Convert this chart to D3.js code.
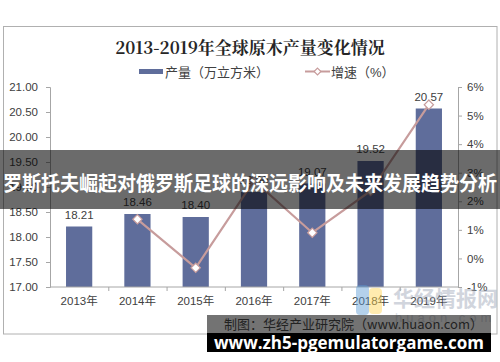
<!DOCTYPE html>
<html><head><meta charset="utf-8">
<script src="https://cdn.jsdelivr.net/npm/d3@7"></script>
<style>body{margin:0;background:#fff}svg{display:block}</style>
</head><body>
<svg id="c" width="500" height="362"></svg>
<script>
const years = ["2013年","2014年","2015年","2016年","2017年","2018年","2019年"];
const output = [18.21, 18.46, 18.40, 18.90, 19.07, 19.52, 20.57];
const growth = [null, 1.37, -0.33, 2.72, 0.90, 2.36, 5.38];
const leftTicks = [17, 17.5, 18, 18.5, 19, 19.5, 20, 20.5, 21];
const rightTicks = [-1, 0, 1, 2, 3, 4, 5, 6];
const title = "2013-2019年全球原木产量变化情况";
const legendBar = "产量（万立方米）";
const legendLine = "增速（%）";
const source = "制图：华经产业研究院（www.huaon.com）";
const banner = "罗斯托夫崛起对俄罗斯足球的深远影响及未来发展趋势分析";
const site = "www.zh5-pgemulatorgame.com";

const svg = d3.select("#c");
const barColor = "#5f6d9b", lineColor = "#c79c9c", axisColor = "#a6a6a6", txt = "#404040";
const font = "'Liberation Sans', Arial, 'Noto Sans CJK SC', sans-serif";

// frame
svg.append("rect").attr("x",3.5).attr("y",26.5).attr("width",493.5).attr("height",307.5)
  .attr("fill","none").attr("stroke","#b0b0b0");

// title
svg.append("text").attr("x",250).attr("y",54).attr("text-anchor","middle")
  .attr("font-family","'Noto Serif CJK SC','DejaVu Serif','Noto Sans CJK SC',serif")
  .attr("font-weight","bold").attr("font-size",17).attr("fill","#262626").text(title);

// legend
svg.append("rect").attr("x",139).attr("y",69).attr("width",24).attr("height",5).attr("fill",barColor);
svg.append("text").attr("x",165).attr("y",76.5).attr("font-family",font).attr("font-size",13).attr("fill",txt).text(legendBar);
svg.append("line").attr("x1",305).attr("x2",330).attr("y1",71.5).attr("y2",71.5).attr("stroke",lineColor).attr("stroke-width",2);
svg.append("path").attr("d",d3.symbol(d3.symbolDiamond2,30)()).attr("transform","translate(317.5,71.5)")
  .attr("fill","#fff").attr("stroke",lineColor).attr("stroke-width",1.2);
svg.append("text").attr("x",331).attr("y",76.5).attr("font-family",font).attr("font-size",13).attr("fill",txt).text(legendLine);

const x = d3.scaleBand().domain(years).range([50,458]).paddingInner(0.55).paddingOuter(0.275);
const xb = d3.scaleBand().domain(years).range([50,458]);
const yL = d3.scaleLinear().domain([17,21]).range([287,87]);
const yR = d3.scaleLinear().domain([-1,6]).range([287,87]);

// bars
svg.append("g").selectAll("rect").data(output).join("rect")
  .attr("x",(d,i)=>x(years[i])).attr("width",x.bandwidth())
  .attr("y",d=>yL(d)).attr("height",d=>yL(17)-yL(d)).attr("fill",barColor);

// bar labels
svg.append("g").selectAll("text").data(output).join("text")
  .attr("x",(d,i)=>x(years[i])+x.bandwidth()/2).attr("y",d=>yL(d)-8)
  .attr("text-anchor","middle").attr("font-family",font).attr("font-size",11.5).attr("fill",txt)
  .text(d=>d.toFixed(2));

// axes
function styleAxis(g){
  g.select(".domain").attr("stroke",axisColor);
  g.selectAll(".tick line").attr("stroke",axisColor);
  g.selectAll(".tick text").attr("fill",txt).attr("font-family",font).attr("font-size",11.5);
}
svg.append("g").attr("transform","translate(50,0)")
  .call(d3.axisLeft(yL).tickValues(leftTicks).tickFormat(d3.format(".2f")).tickSize(4).tickSizeOuter(4).tickPadding(8))
  .call(styleAxis);
svg.append("g").attr("transform","translate(458,0)")
  .call(d3.axisRight(yR).tickValues(rightTicks).tickFormat(d=>d+"%").tickSize(4).tickSizeOuter(4).tickPadding(5))
  .call(styleAxis);
const gx = svg.append("g").attr("transform","translate(0,287)");
gx.append("line").attr("x1",50).attr("x2",458).attr("stroke",axisColor);
gx.selectAll("line.t").data(years.slice(1)).join("line").attr("class","t")
  .attr("x1",d=>xb(d)+0.5).attr("x2",d=>xb(d)+0.5).attr("y1",0).attr("y2",4).attr("stroke",axisColor);
gx.selectAll("text").data(years).join("text")
  .attr("x",d=>xb(d)+xb.bandwidth()/2).attr("y",18).attr("text-anchor","middle")
  .attr("font-family",font).attr("font-size",11.5).attr("fill",txt).text(d=>d);

// line
const pts = growth.map((g,i)=>({g,i})).filter(p=>p.g!==null);
const cx = i => xb(years[i])+xb.bandwidth()/2;
svg.append("path").datum(pts)
  .attr("d",d3.line().x(p=>cx(p.i)).y(p=>yR(p.g)))
  .attr("fill","none").attr("stroke",lineColor).attr("stroke-width",2.2);
svg.append("g").selectAll("path").data(pts).join("path")
  .attr("d",d3.symbol(d3.symbolDiamond2,55)())
  .attr("transform",p=>`translate(${cx(p.i)},${yR(p.g)})`)
  .attr("fill","#fff").attr("stroke",lineColor).attr("stroke-width",1.2);

// watermark
const wm = svg.append("g").attr("opacity",0.45);
wm.append("rect").attr("x",356).attr("y",285).attr("width",13).attr("height",30).attr("rx",4).attr("fill","#5b9bd5");
wm.append("rect").attr("x",369).attr("y",288).attr("width",13).attr("height",26).attr("rx",4).attr("fill","#ffd54f");
wm.append("text").attr("x",393).attr("y",306).attr("font-family","'Noto Sans CJK SC',sans-serif").attr("font-weight","bold")
  .attr("font-size",21).attr("fill","#9aa3b5").text("华经情报网");
wm.append("text").attr("x",395).attr("y",322).attr("font-family",font).attr("font-size",13).attr("letter-spacing",4)
  .attr("fill","#b0b6c4").text("huaon.com");

// source (chart footnote) with overlay
svg.append("rect").attr("x",207).attr("y",315).attr("width",284).attr("height",18).attr("fill","rgba(0,0,0,0.55)");
svg.append("text").attr("x",483).attr("y",329).attr("text-anchor","end")
  .attr("font-family","'Noto Sans CJK SC',sans-serif").attr("font-size",13).attr("fill","#222").text(source);
svg.append("rect").attr("x",207).attr("y",333).attr("width",284).attr("height",19).attr("fill","#000");
svg.append("text").attr("x",349).attr("y",348.5).attr("text-anchor","middle")
  .attr("font-family","'Open Sans','DejaVu Sans',sans-serif").attr("font-weight","bold").attr("font-size",17)
  .attr("fill","#fff").text(site);

// banner
svg.append("rect").attr("x",0).attr("y",150).attr("width",500).attr("height",59).attr("fill","rgba(0,0,0,0.58)");
svg.append("text").attr("x",250).attr("y",191).attr("text-anchor","middle")
  .attr("font-family","'Noto Sans CJK SC',sans-serif").attr("font-weight","bold").attr("font-size",20)
  .attr("textLength",494).attr("lengthAdjust","spacingAndGlyphs")
  .attr("fill","#fff").text(banner);
</script>
</body></html>
